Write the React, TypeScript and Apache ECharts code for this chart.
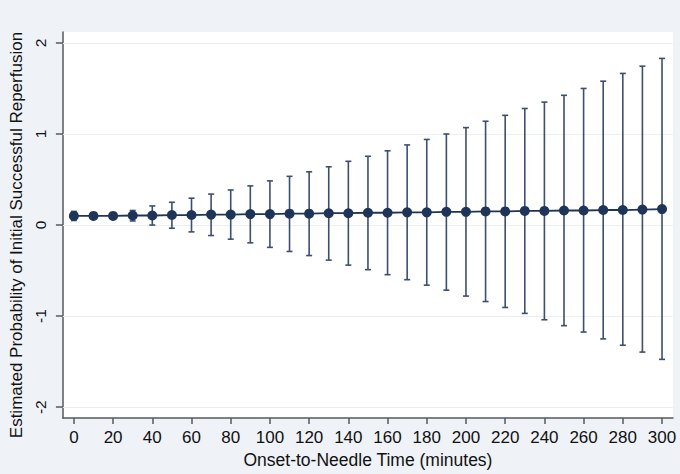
import React, { useEffect, useRef } from "react";
import * as echarts from "echarts";

const minutes = [0, 10, 20, 30, 40, 50, 60, 70, 80, 90, 100, 110, 120, 130, 140, 150, 160, 170, 180, 190, 200, 210, 220, 230, 240, 250, 260, 270, 280, 290, 300];
const estimate = [0.1, 0.1, 0.1, 0.105, 0.105, 0.11, 0.11, 0.115, 0.115, 0.12, 0.12, 0.125, 0.125, 0.13, 0.13, 0.135, 0.135, 0.14, 0.14, 0.145, 0.145, 0.15, 0.15, 0.155, 0.155, 0.16, 0.16, 0.165, 0.165, 0.17, 0.175];
const upper = [0.15, 0.11, 0.11, 0.16, 0.21, 0.25, 0.295, 0.34, 0.385, 0.43, 0.485, 0.535, 0.585, 0.64, 0.7, 0.755, 0.815, 0.88, 0.94, 1.0, 1.07, 1.14, 1.205, 1.28, 1.35, 1.425, 1.5, 1.58, 1.665, 1.745, 1.83];
const lower = [0.05, 0.09, 0.09, 0.045, 0.0, -0.035, -0.075, -0.115, -0.155, -0.195, -0.245, -0.29, -0.335, -0.385, -0.44, -0.49, -0.545, -0.6, -0.66, -0.715, -0.78, -0.84, -0.905, -0.97, -1.04, -1.105, -1.175, -1.25, -1.32, -1.395, -1.475];
const xTicks = [0, 20, 40, 60, 80, 100, 120, 140, 160, 180, 200, 220, 240, 260, 280, 300];
const yTicks = [-2, -1, 0, 1, 2];

const FONT = "Liberation Sans";
const NAVY = "#1e3559";
const BAR = "#3d4f6e";
const AXIS = "#555a60";

export default function App() {
  const ref = useRef<HTMLDivElement>(null);
  useEffect(() => {
    document.body.style.margin = "0";
    const chart = echarts.init(ref.current!, null, { renderer: "svg" });
    chart.setOption({
      animation: false,
      backgroundColor: "#eff3f7",
      textStyle: { fontFamily: FONT },
      grid: {
        left: 62,
        right: 7,
        top: 32,
        bottom: 51,
        show: true,
        backgroundColor: "#ffffff",
        borderWidth: 0,
      },
      xAxis: {
        type: "value",
        min: -5.6,
        max: 305.6,
        name: "Onset-to-Needle Time (minutes)",
        nameLocation: "middle",
        nameGap: 32,
        nameTextStyle: { fontFamily: FONT, fontSize: 17.5, color: "#111" },
        axisLine: { show: true, onZero: false, lineStyle: { color: AXIS, width: 1.5 } },
        axisTick: { show: true, length: 6, customValues: xTicks, lineStyle: { color: AXIS, width: 1.5 } },
        axisLabel: { customValues: xTicks, fontFamily: FONT, fontSize: 17, color: "#111", margin: 11 },
        splitLine: { show: false },
      },
      yAxis: {
        type: "value",
        min: -2.12,
        max: 2.12,
        name: "Estimated Probability of Initial Successful Reperfusion",
        nameLocation: "middle",
        nameGap: 26,
        nameTextStyle: { fontFamily: FONT, fontSize: 17, color: "#111", padding: [0, 20, 0, 0] },
        axisLine: { show: true, onZero: false, lineStyle: { color: AXIS, width: 1.5 } },
        axisTick: { show: true, length: 7, customValues: yTicks, lineStyle: { color: AXIS, width: 1.5 } },
        axisLabel: { customValues: yTicks, rotate: 90, fontFamily: FONT, fontSize: 15.5, color: "#111", margin: 14 },
        splitLine: { show: false },
      },
      series: [
        {
          type: "custom",
          name: "CI",
          z: 2,
          data: minutes.map((m, i) => [m, lower[i], upper[i]]),
          renderItem: (params: any, api: any) => {
            const x = api.value(0);
            const lo = api.coord([x, api.value(1)]);
            const hi = api.coord([x, api.value(2)]);
            const cap = 3;
            const style = { stroke: BAR, lineWidth: 1.6 };
            return {
              type: "group",
              children: [
                { type: "line", shape: { x1: lo[0], y1: lo[1], x2: hi[0], y2: hi[1] }, style },
                { type: "line", shape: { x1: hi[0] - cap, y1: hi[1], x2: hi[0] + cap, y2: hi[1] }, style },
                { type: "line", shape: { x1: lo[0] - cap, y1: lo[1], x2: lo[0] + cap, y2: lo[1] }, style },
              ],
            };
          },
          markLine: {
            silent: true,
            symbol: "none",
            label: { show: false },
            lineStyle: { color: "#eceff2", type: "solid", width: 1 },
            data: yTicks.map((v) => ({ yAxis: v })),
            z: 1,
          },
        },
        {
          type: "line",
          name: "Estimate",
          z: 3,
          data: minutes.map((m, i) => [m, estimate[i]]),
          symbol: "circle",
          symbolSize: 10,
          itemStyle: { color: NAVY },
          lineStyle: { color: NAVY, width: 1.8 },
        },
      ],
    });
    return () => chart.dispose();
  }, []);
  return <div ref={ref} style={{ width: 680, height: 474 }} />;
}
